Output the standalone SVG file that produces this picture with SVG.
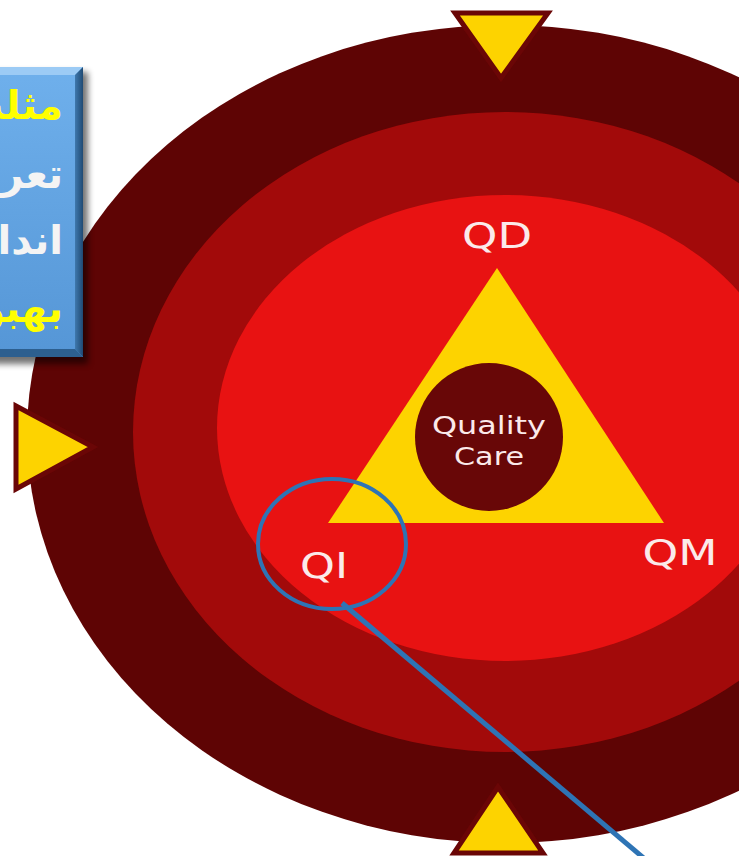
<svg xmlns="http://www.w3.org/2000/svg" width="739" height="856" viewBox="0 0 739 856">
  <style>
    .lbl { font-family: "DejaVu Sans", "Open Sans", sans-serif; fill: #fbeaea; }
    .mark { fill: #fdd300; stroke: #6a0606; stroke-width: 5; stroke-linejoin: miter; }
    .fa { font-family: "DejaVu Sans", "Noto Sans", sans-serif; font-weight: bold; font-size: 40px; }
  </style>
  <defs>
    <linearGradient id="boxFill" x1="0" y1="0" x2="0" y2="1">
      <stop offset="0" stop-color="#6fb0ec"/>
      <stop offset="1" stop-color="#5596d6"/>
    </linearGradient>
    <linearGradient id="bevelRight" x1="0" y1="0" x2="1" y2="0">
      <stop offset="0" stop-color="#3f78ad"/>
      <stop offset="1" stop-color="#1f4a73"/>
    </linearGradient>
    <filter id="soft" x="-20%" y="-20%" width="140%" height="140%">
      <feGaussianBlur stdDeviation="3"/>
    </filter>
  </defs>

  <rect width="739" height="856" fill="#ffffff"/>

  <!-- concentric rings -->
  <g id="ring-outer"><ellipse cx="505" cy="434" rx="478" ry="409" fill="#5e0404"/></g>
  <g id="ring-middle"><ellipse cx="505" cy="432" rx="372" ry="320" fill="#a20a0a"/></g>
  <g id="ring-inner"><ellipse cx="505" cy="428" rx="288" ry="233" fill="#e81212"/></g>

  <!-- quality triangle -->
  <g id="triangle"><polygon points="497,268 328,523 664,523" fill="#fdd300"/></g>

  <g id="core">
    <circle cx="489" cy="437" r="74" fill="#680707"/>
    <text class="lbl" x="489" y="434" text-anchor="middle" font-size="25" textLength="114" lengthAdjust="spacingAndGlyphs">Quality</text>
    <text class="lbl" x="489" y="465" text-anchor="middle" font-size="25" textLength="70" lengthAdjust="spacingAndGlyphs">Care</text>
  </g>

  <g id="qd"><text class="lbl" x="497" y="248" text-anchor="middle" font-size="35" textLength="70" lengthAdjust="spacingAndGlyphs">QD</text></g>
  <g id="qi"><text class="lbl" x="324" y="578" text-anchor="middle" font-size="35" textLength="48" lengthAdjust="spacingAndGlyphs">QI</text></g>
  <g id="qm"><text class="lbl" x="680" y="565" text-anchor="middle" font-size="35" textLength="75" lengthAdjust="spacingAndGlyphs">QM</text></g>

  <!-- direction markers on the outer ring -->
  <g id="marker-top"><polygon class="mark" points="455,13 548,13 501,78"/></g>
  <g id="marker-left"><polygon class="mark" points="16,406 93,447 16,489"/></g>
  <g id="marker-bottom"><polygon class="mark" points="498,787 454,853 543,853"/></g>

  <!-- callout -->
  <g id="connectors">
    <ellipse cx="332" cy="544" rx="74" ry="65" fill="none" stroke="#2e74b5" stroke-width="4"/>
    <line x1="342" y1="603" x2="646" y2="860" stroke="#2e74b5" stroke-width="5"/>
  </g>

  <!-- text box -->
  <g id="textbox">
    <rect x="-40" y="72" width="128" height="292" fill="#000" opacity="0.55" filter="url(#soft)"/>
    <rect x="-40" y="67" width="123" height="290" fill="url(#boxFill)"/>
    <polygon points="-40,67 83,67 75,75 -40,75" fill="#9ccbf5"/>
    <polygon points="83,67 83,357 75,349 75,75" fill="url(#bevelRight)"/>
    <polygon points="-40,357 83,357 75,349 -40,349" fill="#2d5f8f"/>
    <text class="fa" x="63" y="119" text-anchor="end" fill="#ffff00">مثلث</text>
    <text class="fa" x="63" y="188" text-anchor="end" fill="#f4f4f4">تعریف</text>
    <text class="fa" x="63" y="254" text-anchor="end" fill="#f4f4f4">اندازه</text>
    <text class="fa" x="63" y="322" text-anchor="end" fill="#ffff00">بهبود</text>
  </g>
</svg>
